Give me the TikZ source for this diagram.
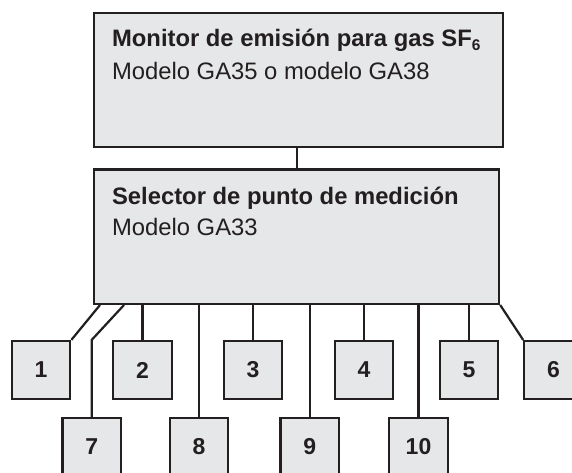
\documentclass[tikz,border=0pt]{standalone}
\usepackage{fontspec}
\setmainfont{Liberation Sans}
\newfontfamily\boxfont[Scale=2.38]{Liberation Sans}
\newfontfamily\unitfont[Scale=2.3]{Liberation Sans}
\usepackage{tikz}
\usetikzlibrary{calc}

\definecolor{boxgray}{HTML}{E6E7E8}
\definecolor{ink}{HTML}{231F20}

\begin{document}
\begin{tikzpicture}[x=1pt, y=-1pt, line width=2.2pt, color=ink,
    unit/.style={draw=ink, fill=boxgray, minimum width=58.5pt, minimum height=58pt,
      inner sep=0pt, font=\unitfont\bfseries},
    big/.style={draw=ink, fill=boxgray, inner sep=0pt, anchor=north west},
    txt/.style={anchor=base west, inner sep=0pt, font=\boxfont},
    bold/.style={font=\boxfont\bfseries}]

  \path[use as bounding box, clip] (0,0) rectangle (572,472);

  %% the two big boxes
  \node[big, minimum width=408.5pt, minimum height=133.5pt] (monitor) at (93,12) {};
  \node[big, minimum width=405pt, minimum height=134.5pt] (selector) at (93,168.3) {};

  \node[txt, bold] (montitle) at (111,46)
    {Monitor de emisión para gas SF\raisebox{-4pt}{\fontsize{6.5}{8}\selectfont 6}};
  \node[txt] (monmodel) at (111,79) {Modelo GA35 o modelo GA38};
  \node[txt, bold] (seltitle) at (111,204) {Selector de punto de medición};
  \node[txt] (selmodel) at (111,235) {Modelo GA33};

  % \draw (monitor.south) -- (selector.north);
  \draw (monitor.south -| selector.north) -- (selector.north); % monitor -> selector

  %% measuring points, upper row
  \node[unit] (u1) at (41,370) {1};
  \node[unit] (u2) at (142.5,370) {2};
  \node[unit] (u3) at (253,370) {3};
  \node[unit] (u4) at (364,370) {4};
  \node[unit] (u5) at (469,370) {5};
  \node[unit] (u6) at (553.5,370) {6};

  %% measuring points, lower row
  \node[unit] (u7) at (91.7,447) {7};
  \node[unit] (u8) at (199,447) {8};
  \node[unit] (u9) at (309.7,447) {9};
  \node[unit] (u10) at (418.5,447) {10};

  \coordinate (s1) at ($(selector.south west)+(7,0)$);
  \coordinate (s7) at ($(selector.south west)+(31,0)$);

  \draw (s1) -- (u1.north east); %% sel -> 1
  \draw (s7) -- (u7.north |- u1.north) -- (u7.north); %% sel -> 7
  \foreach \n in {2,8,3,9,4,10,5}
    \draw (u\n.north) -- (u\n.north |- selector.south);
  \draw (selector.south east) -- (u6.north west); %% sel -> 6

\end{tikzpicture}
\end{document}
